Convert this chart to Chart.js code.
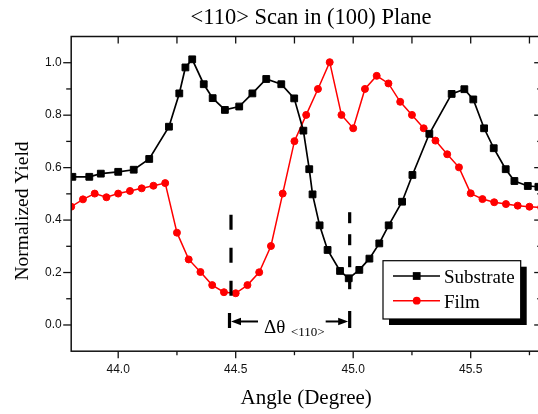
<!DOCTYPE html>
<html>
<head>
<meta charset="utf-8">
<title>&lt;110&gt; Scan in (100) Plane</title>
<script src="https://cdn.jsdelivr.net/npm/chart.js@4.4.1/dist/chart.umd.min.js"></script>
<style>
    html, body { margin: 0; padding: 0; overflow: hidden; background: #fff; }
    #scanChart { display: block; }
</style>
</head>
<body>
<canvas id="scanChart" width="548" height="414"></canvas>
<script>
/*==============================================================
    DATA
==============================================================*/
const substrateAngle = [
    43.805, 43.877, 43.926, 44.000, 44.066, 44.132, 44.216, 44.260, 44.286, 44.315,
    44.364, 44.402, 44.454, 44.515, 44.571, 44.630, 44.694, 44.749, 44.788, 44.813,
    44.827, 44.857, 44.891, 44.944, 44.981, 45.026, 45.069, 45.111, 45.151, 45.208,
    45.252, 45.324, 45.419, 45.473, 45.511, 45.557, 45.598, 45.649, 45.686, 45.743,
    45.788
];
const substrateYield = [
    0.565, 0.565, 0.577, 0.584, 0.592, 0.633, 0.756, 0.883, 0.982, 1.013,
    0.918, 0.865, 0.820, 0.833, 0.883, 0.938, 0.918, 0.864, 0.741, 0.594,
    0.498, 0.380, 0.286, 0.206, 0.178, 0.210, 0.253, 0.311, 0.380, 0.470,
    0.572, 0.729, 0.881, 0.899, 0.860, 0.750, 0.674, 0.594, 0.549, 0.530,
    0.527
];
const filmAngle = [
    43.80, 43.85, 43.90, 43.95, 44.00, 44.05, 44.10, 44.15, 44.20, 44.25,
    44.30, 44.35, 44.40, 44.45, 44.50, 44.55, 44.60, 44.65, 44.70, 44.75,
    44.80, 44.85, 44.90, 44.95, 45.00, 45.05, 45.10, 45.15, 45.20, 45.25,
    45.30, 45.35, 45.40, 45.45, 45.50, 45.55, 45.60, 45.65, 45.70, 45.75,
    45.80
];
const filmYield = [
    0.451, 0.479, 0.501, 0.487, 0.501, 0.511, 0.521, 0.531, 0.541, 0.352,
    0.250, 0.202, 0.152, 0.125, 0.121, 0.152, 0.201, 0.301, 0.501, 0.701,
    0.801, 0.900, 1.002, 0.801, 0.750, 0.900, 0.950, 0.921, 0.851, 0.801,
    0.750, 0.703, 0.651, 0.601, 0.502, 0.480, 0.468, 0.461, 0.455, 0.451,
    0.448
];
const seriesNames = ["Substrate", "Film"];
const xMajorTicks = [44.0, 44.5, 45.0, 45.5];
const xMinorTicks = [44.25, 44.75, 45.25, 45.75];
const yMajorTicks = [0.0, 0.2, 0.4, 0.6, 0.8, 1.0];
const yMinorTicks = [0.1, 0.3, 0.5, 0.7, 0.9];
const channelMarks = [44.48, 44.985];   // film and substrate minima

/*==============================================================
    HELPERS
==============================================================*/
function toPoints(xs, ys) {
    return xs.map(function (x, i) { return { x: x, y: ys[i] }; });
}

function line(ctx, x1, y1, x2, y2) {
    ctx.beginPath();
    ctx.moveTo(x1, y1);
    ctx.lineTo(x2, y2);
    ctx.stroke();
}

function arrowHead(ctx, tipX, y, dir) {
    ctx.beginPath();
    ctx.moveTo(tipX, y);
    ctx.lineTo(tipX + dir * 10, y - 3.8);
    ctx.lineTo(tipX + dir * 10, y + 3.8);
    ctx.closePath();
    ctx.fill();
}

/*==============================================================
    FRAME, TICKS, ANNOTATIONS, LEGEND, TITLES
==============================================================*/
const scanDecor = {
    id: "scanDecor",
    afterDatasetsDraw: function (chart) {
        const ctx = chart.ctx;
        const a = chart.chartArea;
        const xs = chart.scales.x;
        const ys = chart.scales.y;
        ctx.save();
        ctx.strokeStyle = "#111";
        ctx.fillStyle = "#000";

        // box
        ctx.lineWidth = 1.5;
        ctx.strokeRect(a.left, a.top, a.right - a.left, a.bottom - a.top);

        // ticks
        ctx.lineWidth = 1.3;
        xMajorTicks.forEach(function (v) {
            const px = xs.getPixelForValue(v);
            line(ctx, px, a.bottom, px, a.bottom + 7);
            line(ctx, px, a.top, px, a.top + 7);
        });
        xMinorTicks.forEach(function (v) {
            const px = xs.getPixelForValue(v);
            line(ctx, px, a.bottom, px, a.bottom + 4);
            line(ctx, px, a.top, px, a.top + 7);
        });
        yMajorTicks.forEach(function (v) {
            const py = ys.getPixelForValue(v);
            line(ctx, a.left - 8, py, a.left, py);
            line(ctx, a.right - 7, py, a.right, py);
        });
        yMinorTicks.forEach(function (v) {
            const py = ys.getPixelForValue(v);
            line(ctx, a.left - 5, py, a.left, py);
            line(ctx, a.right - 4, py, a.right, py);
        });

        // dashed channel markers
        const p0 = xs.getPixelForValue(channelMarks[0]);
        const p1 = xs.getPixelForValue(channelMarks[1]);
        const y0 = ys.getPixelForValue(0);
        ctx.strokeStyle = "#000";
        ctx.lineWidth = 3.2;
        ctx.setLineDash([15, 18]);
        line(ctx, p0, ys.getPixelForValue(0.42), p0, ys.getPixelForValue(0.11));
        ctx.setLineDash([11, 11]);
        line(ctx, p1, ys.getPixelForValue(0.43), p1, ys.getPixelForValue(0.12));
        ctx.setLineDash([]);
        line(ctx, p0 - 1.5, y0 - 12, p0 - 1.5, y0 + 3);
        line(ctx, p1, y0 - 14, p1, y0 + 3);

        // arrows
        const ay = y0 - 3.5;
        ctx.lineWidth = 2;
        line(ctx, p0 + 6, ay, p0 + 27, ay);
        arrowHead(ctx, p0, ay, 1);
        line(ctx, p1 - 24, ay, p1 - 6, ay);
        arrowHead(ctx, p1 - 1.5, ay, -1);

        ctx.textAlign = "left";
        ctx.textBaseline = "alphabetic";
        ctx.font = "19px 'Liberation Serif'";
        ctx.fillText("\u0394\u03b8", p0 + 33, y0 + 8);
        ctx.font = "13px 'Liberation Serif'";
        ctx.fillText("<110>", p0 + 60, y0 + 11.5);

        // legend
        const lx = 383, ly = 260.7, lw = 137.7, lh = 58.3;
        ctx.fillStyle = "#000";
        ctx.fillRect(lx + 6, ly + 6, lw, lh);
        ctx.fillStyle = "#fff";
        ctx.fillRect(lx, ly, lw, lh);
        ctx.strokeStyle = "#000";
        ctx.lineWidth = 1.2;
        ctx.strokeRect(lx, ly, lw, lh);
        chart.data.datasets.forEach(function (ds, i) {
            const ry = ly + 15.3 + i * 24.7;
            ctx.strokeStyle = ds.borderColor;
            ctx.fillStyle = ds.borderColor;
            ctx.lineWidth = ds.borderWidth;
            line(ctx, lx + 10, ry, lx + 57, ry);
            ctx.beginPath();
            if (ds.pointStyle === "rect") {
                ctx.rect(lx + 33.7 - 3.9, ry - 3.9, 7.8, 7.8);
            } else {
                ctx.arc(lx + 33.7, ry, 3.9, 0, Math.PI * 2);
            }
            ctx.fill();
            ctx.fillStyle = "#000";
            ctx.font = "19px 'Liberation Serif'";
            ctx.fillText(ds.label, lx + 61, ry + 7);
        });

        // titles
        ctx.fillStyle = "#000";
        ctx.textAlign = "center";
        ctx.font = "22.5px 'Liberation Serif'";
        ctx.fillText("<110> Scan in (100) Plane", 311, 24);
        ctx.font = "21px 'Liberation Serif'";
        ctx.fillText("Angle (Degree)", (a.left + a.right) / 2, 404);
        ctx.translate(28, 211);
        ctx.rotate(-Math.PI / 2);
        ctx.font = "19.5px 'Liberation Serif'";
        ctx.fillText("Normalized Yield", 0, 0);

        ctx.restore();
    }
};

/*==============================================================
    CHART
==============================================================*/
function scanChart() {
    const ctx = document.getElementById("scanChart");
    if (!ctx) return;
    new Chart(ctx, {
        type: "scatter",
        data: {
            datasets: [{
                label: seriesNames[0],
                data: toPoints(substrateAngle, substrateYield),
                showLine: true,
                borderColor: "#000",
                backgroundColor: "#000",
                borderWidth: 1.7,
                pointStyle: "rect",
                pointRadius: 4.8,
                pointBorderWidth: 1,
                tension: 0
            }, {
                label: seriesNames[1],
                data: toPoints(filmAngle, filmYield),
                showLine: true,
                borderColor: "#ff0000",
                backgroundColor: "#ff0000",
                borderWidth: 1.5,
                pointStyle: "circle",
                pointRadius: 3.5,
                pointBorderWidth: 1,
                tension: 0
            }]
        },
        options: {
            responsive: false,
            animation: false,
            devicePixelRatio: 1,
            layout: {
                padding: { top: 36.5, right: 6.8, bottom: 0, left: 0 }
            },
            plugins: {
                legend: { display: false },
                tooltip: { enabled: false },
                title: { display: false }
            },
            scales: {
                x: {
                    type: "linear",
                    min: 43.8,
                    max: 45.8,
                    grid: { display: false, drawTicks: false },
                    border: { display: false },
                    afterBuildTicks: function (scale) {
                        scale.ticks = xMajorTicks.map(function (v) { return { value: v }; });
                    },
                    afterFit: function (scale) { scale.height = 62.8; },
                    ticks: {
                        padding: 11.6,
                        maxRotation: 0,
                        color: "#111",
                        font: { family: "'Liberation Sans'", size: 12 },
                        callback: function (v) { return Number(v).toFixed(1); }
                    }
                },
                y: {
                    type: "linear",
                    min: -0.1,
                    max: 1.1,
                    grid: { display: false, drawTicks: false },
                    border: { display: false },
                    afterBuildTicks: function (scale) {
                        scale.ticks = yMajorTicks.map(function (v) { return { value: v }; });
                    },
                    afterFit: function (scale) { scale.width = 71.2; },
                    ticks: {
                        padding: 9.5,
                        color: "#111",
                        font: { family: "'Liberation Sans'", size: 12 },
                        callback: function (v) { return Number(v).toFixed(1); }
                    }
                }
            }
        },
        plugins: [scanDecor]
    });
}

scanChart();
</script>
</body>
</html>
